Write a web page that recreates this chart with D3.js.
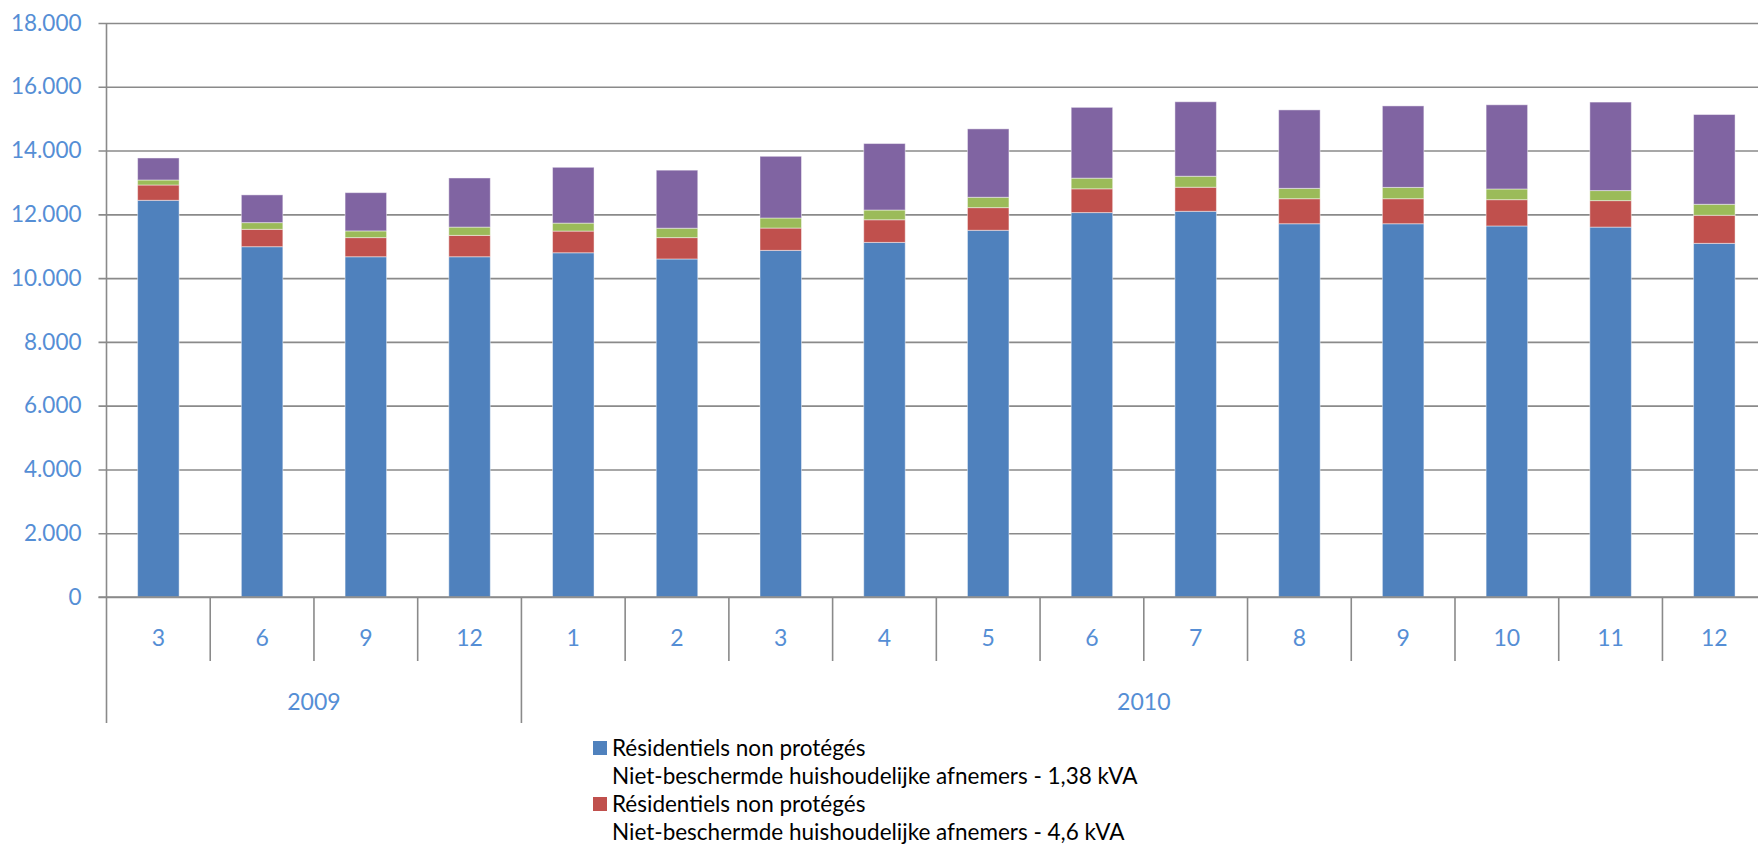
<!DOCTYPE html>
<html>
<head>
<meta charset="utf-8">
<script src="https://cdn.jsdelivr.net/npm/d3@7"></script>
<style>
  body { margin: 0; background: #fff; overflow: hidden; }
  svg { display: block; }
  .tick text { font-family: Lato, "Open Sans", sans-serif; }
</style>
</head>
<body>
<div id="chart"></div>
<script>
// categories (month within year) and the year groups below them
var months = ["3", "6", "9", "12", "1", "2", "3", "4", "5", "6", "7", "8", "9", "10", "11", "12"];
var yearLabels = ["2009", "2010"];
var yearSpans = [4, 12];

// stacked series, bottom to top
var blue   = [12440, 10985, 10670, 10670, 10795, 10600, 10870, 11120, 11500, 12055, 12095, 11705, 11705, 11635, 11600, 11090];
var red    = [480, 545, 600, 670, 680, 670, 700, 710, 710, 745, 755, 785, 785, 825, 830, 880];
var green  = [157, 210, 210, 260, 250, 295, 315, 305, 325, 335, 345, 325, 355, 335, 315, 345];
var purple = [690, 870, 1200, 1540, 1750, 1820, 1935, 2085, 2145, 2220, 2335, 2460, 2555, 2640, 2775, 2815];

var seriesKeys = ["blue", "red", "green", "purple"];
var seriesColors = ["#4F81BD", "#C0504D", "#9BBB59", "#8064A2"];
var legendLabels = [
  ["Résidentiels non protégés", "Niet-beschermde huishoudelijke afnemers - 1,38 kVA"],
  ["Résidentiels non protégés", "Niet-beschermde huishoudelijke afnemers - 4,6 kVA"]
];

var yTicks = [0, 2000, 4000, 6000, 8000, 10000, 12000, 14000, 16000, 18000];

var W = 1758, H = 845;
var left = 106.5, step = 103.73;
var top0 = 23, bottom0 = 597;
var axisColor = "#8a8a8a", labelColor = "#558ED5";

var locale = d3.formatLocale({decimal: ",", thousands: ".", grouping: [3], currency: ["", ""]});
var fmt = locale.format(",d");

var table = months.map(function(m, i) {
  return {i: i, blue: blue[i], red: red[i], green: green[i], purple: purple[i]};
});

var svg = d3.select("#chart")
  .append("svg")
    .attr("width", W)
    .attr("height", H);

var x = d3.scaleBand()
  .domain(d3.range(months.length))
  .range([left, left + step * months.length])
  .padding(0);

var y = d3.scaleLinear()
  .domain([0, 18000])
  .range([bottom0, top0]);

// gridlines + y labels
var yAxis = svg.append("g")
    .attr("transform", "translate(" + left + ",0)")
    .call(d3.axisLeft(y)
      .tickValues(yTicks)
      .tickSize(-(W - left))
      .tickPadding(25)
      .tickFormat(fmt));

yAxis.select(".domain").remove();
yAxis.selectAll(".tick line")
    .attr("x1", -8)
    .attr("stroke", axisColor)
    .attr("stroke-width", 1.6);
yAxis.selectAll(".tick text")
    .attr("fill", labelColor)
    .style("font-size", "22.5px");

// bars
var stacked = d3.stack().keys(seriesKeys)(table);
var barW = x.bandwidth() * 0.4;

svg.append("g")
  .selectAll("g")
  .data(stacked)
  .enter().append("g")
    .attr("fill", function(d, k) { return seriesColors[k]; })
  .selectAll("rect")
  .data(function(d) { return d; })
  .enter().append("rect")
    .attr("x", function(d) { return x(d.data.i) + (x.bandwidth() - barW) / 2; })
    .attr("y", function(d) { return y(d[1]); })
    .attr("width", barW)
    .attr("height", function(d) { return y(d[0]) - y(d[1]); })
    .attr("stroke", "rgba(255,255,255,0.45)")
    .attr("stroke-width", 1);

// y axis line runs down through the category rows
svg.append("line")
    .attr("x1", left).attr("x2", left)
    .attr("y1", top0).attr("y2", 723)
    .attr("stroke", axisColor)
    .attr("stroke-width", 1.6);

// baseline redrawn over the bars
svg.append("line")
    .attr("x1", left - 8).attr("x2", W)
    .attr("y1", y(0)).attr("y2", y(0))
    .attr("stroke", axisColor)
    .attr("stroke-width", 1.6);

// month labels
var xAxis = svg.append("g")
    .attr("transform", "translate(0," + bottom0 + ")")
    .call(d3.axisBottom(x)
      .tickSize(0)
      .tickPadding(33)
      .tickFormat(function(i) { return months[i]; }));

xAxis.select(".domain").remove();
xAxis.selectAll(".tick text")
    .attr("fill", labelColor)
    .style("font-size", "23px");

// separators between months
svg.append("g")
  .selectAll("line")
  .data(d3.range(1, months.length))
  .enter().append("line")
    .attr("x1", function(i) { return x(i); })
    .attr("x2", function(i) { return x(i); })
    .attr("y1", bottom0)
    .attr("y2", 661)
    .attr("stroke", axisColor)
    .attr("stroke-width", 1.6);

// year groups
var yearStart = [];
var acc = 0;
for (var k = 0; k < yearSpans.length; k++) {
  yearStart.push(acc);
  acc = acc + yearSpans[k];
}

svg.append("g")
  .selectAll("line")
  .data(yearStart.slice(1))
  .enter().append("line")
    .attr("x1", function(i) { return x(i); })
    .attr("x2", function(i) { return x(i); })
    .attr("y1", 661)
    .attr("y2", 723)
    .attr("stroke", axisColor)
    .attr("stroke-width", 1.6);

svg.append("g")
  .selectAll("text")
  .data(yearLabels)
  .enter().append("text")
    .attr("x", function(d, k) {
      var a = x(yearStart[k]);
      var b = x(yearStart[k] + yearSpans[k] - 1) + x.bandwidth();
      return (a + b) / 2;
    })
    .attr("y", 710)
    .attr("text-anchor", "middle")
    .attr("fill", labelColor)
    .style("font-family", "Lato, 'Open Sans', sans-serif")
    .style("font-size", "23px")
    .text(function(d) { return d; });

// legend (only the first two entries fit in the picture)
var legend = svg.append("g")
  .selectAll("g")
  .data(legendLabels)
  .enter().append("g")
    .attr("transform", function(d, k) { return "translate(593," + (741 + k * 56) + ")"; });

legend.append("rect")
    .attr("width", 14)
    .attr("height", 14)
    .attr("fill", function(d, k) { return seriesColors[k]; });

legend.selectAll("text")
  .data(function(d) { return d; })
  .enter().append("text")
    .attr("x", 19)
    .attr("y", function(d, j) { return 15 + j * 27.5; })
    .attr("fill", "#000")
    .style("font-family", "Lato, 'Open Sans', sans-serif")
    .style("font-size", "22.5px")
    .text(function(d) { return d; });
</script>
</body>
</html>
